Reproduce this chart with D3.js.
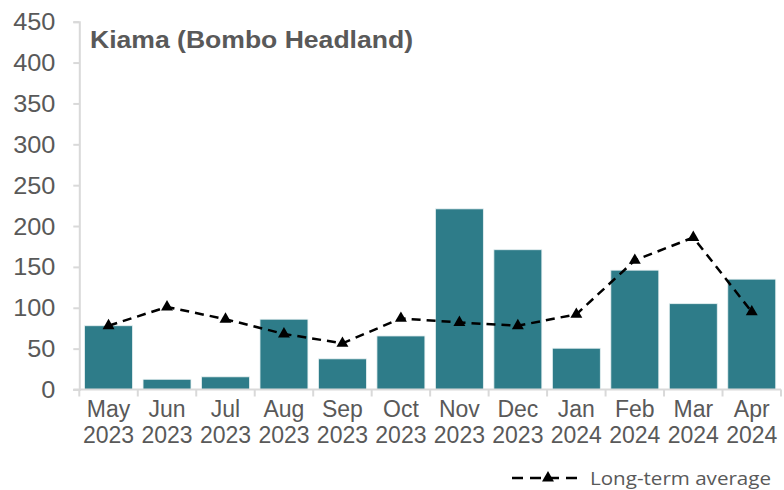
<!DOCTYPE html>
<html>
<head>
<meta charset="utf-8">
<script src="https://cdn.jsdelivr.net/npm/d3@7"></script>
<style>
body { margin: 0; background: #fff; }
svg { display: block; }
</style>
</head>
<body>
<div id="chart"></div>
<script>
const months = ["May", "Jun", "Jul", "Aug", "Sep", "Oct", "Nov", "Dec", "Jan", "Feb", "Mar", "Apr"];
const years = ["2023", "2023", "2023", "2023", "2023", "2023", "2023", "2023", "2024", "2024", "2024", "2024"];
const rainfall = [78, 12.5, 15.5, 86, 37.5, 65.5, 221, 171, 50.5, 146, 105, 135];
const longTermAvg = [78, 101, 86, 68, 56.5, 87, 82, 78, 92, 158, 186, 95];
const yTicks = [0, 50, 100, 150, 200, 250, 300, 350, 400, 450];

const width = 784, height = 490;
const margin = {top: 21.7, right: 3, bottom: 100.5, left: 79.3};

const svg = d3.select("#chart").append("svg")
	.attr("width", width)
	.attr("height", height);

const x = d3.scaleBand()
	.domain(d3.range(months.length))
	.range([margin.left, width - margin.right])
	.paddingInner(0.18)
	.paddingOuter(0.09);

const y = d3.scaleLinear()
	.domain([0, 450])
	.range([height - margin.bottom, margin.top]);

const grey = "#595959";
const axisColor = "#d9d9d9";
const font = "Liberation Sans, Arial, sans-serif";

// bars
svg.append("g").selectAll("rect")
	.data(rainfall)
	.join("rect")
	.attr("x", (d, i) => x(i))
	.attr("y", d => y(d))
	.attr("width", x.bandwidth())
	.attr("height", d => y(0) - y(d))
	.attr("fill", "#2e7c89")
	.attr("stroke", "#e8f1f2")
	.attr("stroke-width", 0.8);

// y axis
const yAxis = svg.append("g")
	.attr("transform", `translate(${margin.left},0)`)
	.call(d3.axisLeft(y).tickValues(yTicks).tickSize(6).tickPadding(15.8));
yAxis.select(".domain").attr("stroke", axisColor).attr("stroke-width", 2);
yAxis.selectAll(".tick line").attr("stroke", axisColor).attr("stroke-width", 2);
yAxis.selectAll("text")
	.attr("fill", grey)
	.attr("transform", "scale(1.1,1)")
	.style("font-family", font)
	.style("font-size", "23px")
	.attr("dy", "0.35em");

// x axis
const xEdges = d3.range(months.length + 1).map(i => margin.left + i * (width - margin.right - margin.left) / months.length);
const xg = svg.append("g");
xg.append("line")
	.attr("x1", margin.left - 6).attr("x2", width - margin.right)
	.attr("y1", y(0)).attr("y2", y(0))
	.attr("stroke", axisColor).attr("stroke-width", 2);
xg.selectAll("line.tick")
	.data(xEdges)
	.join("line")
	.attr("class", "tick")
	.attr("x1", d => d).attr("x2", d => d)
	.attr("y1", y(0)).attr("y2", y(0) + 7)
	.attr("stroke", axisColor).attr("stroke-width", 2);

const xLabels = xg.selectAll("text")
	.data(months)
	.join("text")
	.attr("x", (d, i) => x(i) + x.bandwidth() / 2)
	.attr("y", y(0) + 27)
	.attr("text-anchor", "middle")
	.attr("fill", grey)
	.style("font-family", font)
	.style("font-size", "23px");
xLabels.append("tspan").text(d => d);
xLabels.append("tspan")
	.attr("x", (d, i) => x(i) + x.bandwidth() / 2)
	.attr("dy", 26.5)
	.text((d, i) => years[i]);

// long-term average line
const line = d3.line()
	.x((d, i) => x(i) + x.bandwidth() / 2)
	.y(d => y(d));

svg.append("path")
	.datum(longTermAvg)
	.attr("d", line)
	.attr("fill", "none")
	.attr("stroke", "#000")
	.attr("stroke-width", 2.5)
	.attr("stroke-dasharray", "9,6");

const tri = d3.symbol().type(d3.symbolTriangle).size(62);
svg.append("g").selectAll("path")
	.data(longTermAvg)
	.join("path")
	.attr("d", tri)
	.attr("transform", (d, i) => `translate(${x(i) + x.bandwidth() / 2},${y(d)})`)
	.attr("fill", "#000");

// title
svg.append("text")
	.attr("x", 90)
	.attr("y", 48)
	.attr("fill", grey)
	.attr("textLength", 323)
	.attr("lengthAdjust", "spacingAndGlyphs")
	.style("font-family", font)
	.style("font-size", "24px")
	.style("font-weight", "bold")
	.text("Kiama (Bombo Headland)");

// legend
const lg = svg.append("g").attr("transform", "translate(512,478)");
lg.append("line")
	.attr("x1", 0).attr("x2", 65)
	.attr("y1", 0).attr("y2", 0)
	.attr("stroke", "#000")
	.attr("stroke-width", 2.5)
	.attr("stroke-dasharray", "11,7");
lg.append("path")
	.attr("d", tri)
	.attr("transform", "translate(36,0)")
	.attr("fill", "#000");
lg.append("text")
	.attr("x", 78)
	.attr("y", 7)
	.attr("fill", grey)
	.attr("textLength", 181)
	.attr("lengthAdjust", "spacingAndGlyphs")
	.style("font-family", "Open Sans, Liberation Sans, sans-serif")
	.style("font-size", "19px")
	.text("Long-term average");
</script>
</body>
</html>
